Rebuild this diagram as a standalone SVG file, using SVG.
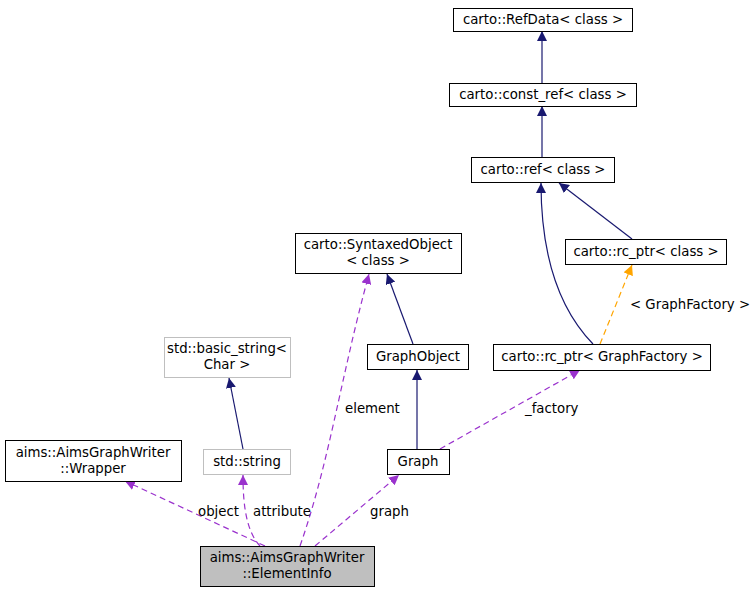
<svg xmlns="http://www.w3.org/2000/svg" width="753" height="592" viewBox="0 0 753 592">
<defs>
<style>
.n rect{fill:#fff;stroke:#000;stroke-width:1}
.g rect{stroke:#bfbfbf}
text{font-family:"DejaVu Sans",sans-serif;font-size:13.3px;fill:#000}
.c{text-anchor:middle}
.inh{fill:none;stroke:#191970;stroke-width:1.2}
.use{fill:none;stroke:#9a32cd;stroke-width:1.2;stroke-dasharray:6,4}
.tpl{fill:none;stroke:#ffa500;stroke-width:1.2;stroke-dasharray:6,4}
</style>
<marker id="an" viewBox="0 0 10 10" refX="10" refY="5" markerWidth="10" markerHeight="10" markerUnits="userSpaceOnUse" orient="auto"><path d="M0,0L10,5L0,10z" fill="#191970"/></marker>
<marker id="ap" viewBox="0 0 10 10" refX="10" refY="5" markerWidth="10" markerHeight="10" markerUnits="userSpaceOnUse" orient="auto"><path d="M0,0L10,5L0,10z" fill="#9a32cd"/></marker>
<marker id="ao" viewBox="0 0 10 10" refX="10" refY="5" markerWidth="10" markerHeight="10" markerUnits="userSpaceOnUse" orient="auto"><path d="M0,0L10,5L0,10z" fill="#ffa500"/></marker>
</defs>
<rect width="753" height="592" fill="#fff"/>
<g id="connectors">
<path class="inh" d="M542,83V31" marker-end="url(#an)"/>
<path class="inh" d="M542,157V106" marker-end="url(#an)"/>
<path class="inh" d="M632,239L559,183" marker-end="url(#an)"/>
<path class="inh" d="M593,344C560,310 541,260 541,183" marker-end="url(#an)"/>
<path class="tpl" d="M600,344L632,265" marker-end="url(#ao)"/>
<path class="inh" d="M413,344L387,274" marker-end="url(#an)"/>
<path class="inh" d="M417,449V370" marker-end="url(#an)"/>
<path class="inh" d="M243,449L229,378" marker-end="url(#an)"/>
<path class="use" d="M440,449L580,370" marker-end="url(#ap)"/>
<path class="use" d="M265,546L125,481" marker-end="url(#ap)"/>
<path class="use" d="M260,546C245,530 243,500 243,475" marker-end="url(#ap)"/>
<path class="use" d="M300,546C330,460 340,380 369,274" marker-end="url(#ap)"/>
<path class="use" d="M315,546L399,475" marker-end="url(#ap)"/>
<text x="630" y="309">&lt; GraphFactory &gt;</text>
<text x="525" y="413">_factory</text>
<text x="345" y="413">element</text>
<text x="198" y="516">object</text>
<text x="253" y="516">attribute</text>
<text x="370" y="516">graph</text>
</g>
<g id="refdata" class="n"><rect x="453.5" y="8.5" width="179" height="23"/><text class="c" x="543" y="24">carto::RefData&lt; class &gt;</text></g>
<g id="constref" class="n"><rect x="449.5" y="83.5" width="187" height="23"/><text class="c" x="543" y="99">carto::const_ref&lt; class &gt;</text></g>
<g id="ref" class="n"><rect x="471.5" y="157.5" width="143" height="25"/><text class="c" x="543" y="174">carto::ref&lt; class &gt;</text></g>
<g id="rcptr" class="n"><rect x="565.5" y="239.5" width="161" height="25"/><text class="c" x="646" y="256">carto::rc_ptr&lt; class &gt;</text></g>
<g id="syntaxed" class="n"><rect x="295.5" y="233.5" width="166" height="40"/><text class="c" x="378" y="249">carto::SyntaxedObject</text><text class="c" x="378" y="265">&lt; class &gt;</text></g>
<g id="basicstring" class="n g"><rect x="164.5" y="337.5" width="126" height="40"/><text class="c" x="227" y="353">std::basic_string&lt;</text><text class="c" x="227" y="369">Char &gt;</text></g>
<g id="graphobject" class="n"><rect x="367.5" y="344.5" width="101" height="25"/><text class="c" x="418" y="361">GraphObject</text></g>
<g id="rcptrgf" class="n"><rect x="493.5" y="344.5" width="217" height="26"/><text class="c" x="602" y="361">carto::rc_ptr&lt; GraphFactory &gt;</text></g>
<g id="wrapper" class="n"><rect x="5.5" y="440.5" width="176" height="41"/><text class="c" x="93" y="457">aims::AimsGraphWriter</text><text class="c" x="93" y="473">::Wrapper</text></g>
<g id="stdstring" class="n g"><rect x="203.5" y="449.5" width="87" height="25"/><text class="c" x="247" y="466">std::string</text></g>
<g id="graph" class="n"><rect x="387.5" y="449.5" width="62" height="25"/><text class="c" x="418" y="466">Graph</text></g>
<g id="elementinfo" class="n"><rect x="200.5" y="546.5" width="174" height="40" style="fill:#bfbfbf;stroke:#000"/><text class="c" x="287" y="562">aims::AimsGraphWriter</text><text class="c" x="287" y="578">::ElementInfo</text></g>
</svg>
